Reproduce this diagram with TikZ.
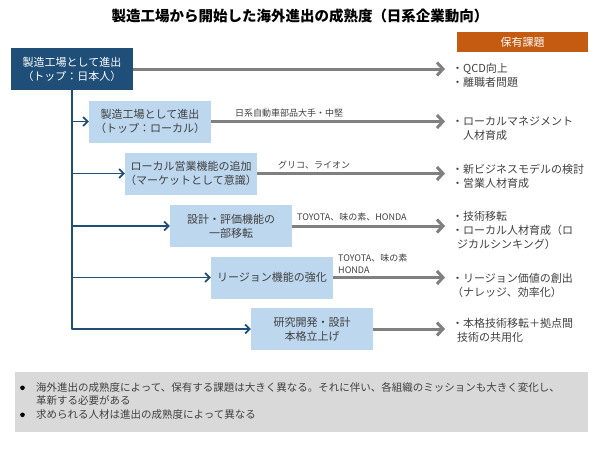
\documentclass[tikz,border=0pt]{standalone}
\usepackage{fontspec}
\setmainfont{Noto Sans CJK JP}
\usetikzlibrary{arrows.meta}
\definecolor{darkblue}{HTML}{1F4E79}
\definecolor{lightblue}{HTML}{BDD7EE}
\definecolor{issueorange}{HTML}{C55A11}
\definecolor{arrowgray}{HTML}{808080}
\definecolor{textgray}{HTML}{404040}
\definecolor{notegray}{HTML}{D9D9D9}
\tikzset{
  topbox/.style={fill=darkblue, text=white, minimum width=122pt, minimum height=42pt, align=center, inner sep=0pt},
  stagebox/.style={fill=lightblue, text=textgray, minimum width=122pt, minimum height=42pt, align=center, inner sep=0pt},
  issue/.style={anchor=west, align=left, text=textgray, inner sep=0pt, font=\fontsize{11}{14}\selectfont},
  firm/.style={anchor=west, align=left, text=textgray, inner sep=0pt, font=\fontsize{9}{11.5}\selectfont},
  grayarr/.style={draw=arrowgray, line width=3pt, -{Straight Barb[length=6pt,width=13pt]}},
  bluearr/.style={draw=darkblue, line width=1.8pt, -{Straight Barb[length=4.5pt,width=9pt]}}
}
\newcommand{\notedot}{\makebox[16pt][l]{\raisebox{1pt}{\tikz\fill[black] (0,0) circle (2.3pt);}}}
\begin{document}
\begin{tikzpicture}[x=1pt, y=-1pt, font=\fontsize{11}{14}\selectfont, line join=round]
  \useasboundingbox (0,0) rectangle (600,450);
  % タイトル
  \node[text=black, font=\fontsize{14.5}{17}\selectfont\bfseries] (title) at (300,16) {製造工場から開始した海外進出の成熟度（日系企業動向）};
  \node[fill=issueorange, text=white, minimum width=131pt, minimum height=20pt, inner sep=0pt] (head) at (522.5,42) {保有課題};
  % 段階のボックス
  \node[topbox] (b1) at (72,69) {製造工場として進出\\（トップ：日本人）};
  \node[stagebox] (b2) at (150,121.5) {製造工場として進出\\（トップ：ローカル）};
  \node[stagebox] (b3) at (191,173.5) {ローカル営業機能の追加\\（マーケットとして意識）};
  \node[stagebox] (b4) at (231,226) {設計・評価機能の\\一部移転};
  \node[stagebox] (b5) at (272,277.5) {リージョン機能の強化};
  \node[stagebox] (b6) at (312,329) {研究開発・設計\\本格立上げ};
  \coordinate (tip) at (445,0);
  % 分岐の矢印
  \draw[bluearr] (b1.south) |- (b6.west);
  \foreach \b in {b2,b3,b4,b5}
    \draw[bluearr] (b1.south |- \b.west) -- (\b.west);
  % 課題への矢印
  \foreach \b in {b1,b2,b3,b4,b5,b6}
    \draw[grayarr] (\b.east) -- (\b.east -| tip);
  % 企業名
  \node[firm] (f2) at (235,113) {日系自動車部品大手・中堅};
  \node[firm] (f3) at (278,165) {グリコ、ライオン};
  \node[firm] (f4) at (297,217) {TOYOTA、味の素、HONDA};
  \node[firm] (f5) at (338,264) {TOYOTA、味の素\\HONDA};
  % 保有課題
  \node[issue] (r1) at (452,75) {・QCD向上\\・離職者問題};
  \node[issue] (r2) at (452,128.5) {・ローカルマネジメント\\\hspace*{1em}人材育成};
  \node[issue] (r3) at (452,176.5) {・新ビジネスモデルの検討\\・営業人材育成};
  \node[issue] (r4) at (452,230.5) {・技術移転\\・ローカル人材育成（ロ\\\hspace*{.45em}ジカルシンキング）};
  \node[issue] (r5) at (452,285) {・リージョン価値の創出\\（ナレッジ、効率化）};
  \node[issue] (r6) at (452,330) {・本格技術移転＋拠点間\\\hspace*{.45em}技術の共用化};
  % まとめ
  \fill[notegray] (15,372) rectangle (588,432);
  \node[anchor=north west, align=left, text=textgray, inner sep=0pt, font=\fontsize{10.5}{13.5}\selectfont] (note) at (20,382)
    {\notedot 海外進出の成熟度によって、保有する課題は大きく異なる。それに伴い、各組織のミッションも大きく変化し、\\
     \hspace*{16pt}革新する必要がある\\
     \notedot 求められる人材は進出の成熟度によって異なる};
\end{tikzpicture}
\end{document}
